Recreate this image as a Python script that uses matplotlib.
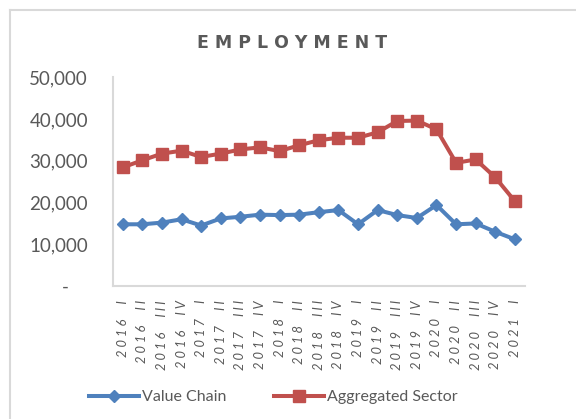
import matplotlib
matplotlib.use('Agg')
import matplotlib.pyplot as plt
from matplotlib.lines import Line2D

# quarters shown on the x axis
quarters = ['2016 I', '2016 II', '2016 III', '2016 IV',
            '2017 I', '2017 II', '2017 III', '2017 IV',
            '2018 I', '2018 II', '2018 III', '2018 IV',
            '2019 I', '2019 II', '2019 III', '2019 IV',
            '2020 I', '2020 II', '2020 III', '2020 IV',
            '2021 I']

value_chain = [14800, 14800, 15200, 16000, 14500, 16200, 16600, 17100,
               17000, 17100, 17700, 18200, 14800, 18200, 17000, 16300,
               19400, 14800, 15000, 13000, 11200]

aggregated_sector = [28400, 30100, 31700, 32400, 30900, 31700, 32700, 33200,
                     32300, 33700, 34900, 35500, 35500, 36800, 39500, 39600,
                     37500, 29500, 30300, 26000, 20300]

yticks = [0, 10000, 20000, 30000, 40000, 50000]
ytick_labels = ['-    ', '10,000', '20,000', '30,000', '40,000', '50,000']

blue = '#4F81BD'
red = '#C0504D'
grey_txt = '#595959'
grey_line = '#D9D9D9'

plt.rcParams['font.family'] = ['Lato', 'DejaVu Sans']

fig = plt.figure(figsize=(5.76, 4.19), dpi=100)
ax = fig.add_axes([0.196, 0.317, 0.715, 0.499])

x = range(len(quarters))
ax.plot(x, value_chain, color=blue, lw=2.9, marker='D', ms=6.5,
        label='Value Chain')
ax.plot(x, aggregated_sector, color=red, lw=2.9, marker='s', ms=8.5,
        label='Aggregated Sector')

ax.set_xlim(-0.5, len(quarters) - 0.5)
ax.set_ylim(0, 50000)
ax.set_yticks(yticks)
ax.set_yticklabels(ytick_labels)
ax.set_xticks(list(x))
ax.set_xticklabels([' '.join(q.replace(' ', '  ')) for q in quarters],
                   rotation=90, va='top', ha='center', style='italic')

ax.tick_params(axis='y', length=0, pad=18, labelsize=13.5, colors=grey_txt)
ax.tick_params(axis='x', length=0, pad=10, labelsize=9.3, colors=grey_txt)
for s in ['top', 'right']:
    ax.spines[s].set_visible(False)
for s in ['left', 'bottom']:
    ax.spines[s].set_color(grey_line)
    ax.spines[s].set_linewidth(1.5)

fig.text(0.507, 0.897, ' '.join('EMPLOYMENT'), ha='center', va='center',
         fontsize=12.5, fontweight='bold', color=grey_txt,
         family=['DejaVu Sans'])

leg = fig.legend(loc='center', bbox_to_anchor=(0.475, 0.052), ncol=2,
                 frameon=False, fontsize=11.5, handlelength=3.1,
                 columnspacing=3.0, handletextpad=0.2)
for t in leg.get_texts():
    t.set_color(grey_txt)

# chart border (top and left only visible)
fig.add_artist(Line2D([10 / 576, 1], [1 - 10 / 419] * 2, color=grey_line,
                      lw=1.5, transform=fig.transFigure))
fig.add_artist(Line2D([10 / 576] * 2, [0, 1 - 10 / 419], color=grey_line,
                      lw=1.5, transform=fig.transFigure))

fig.savefig('out.png', dpi=100)
